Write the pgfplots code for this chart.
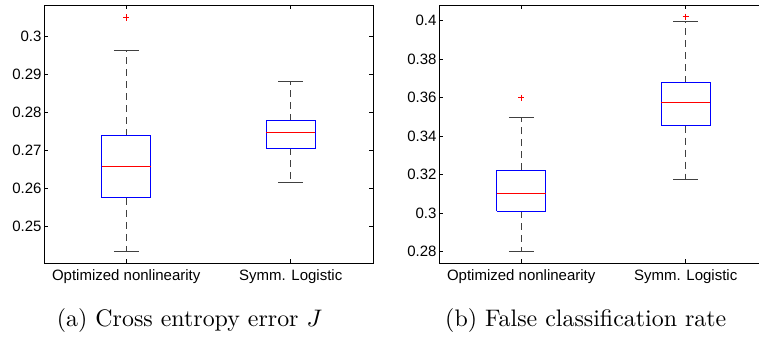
\documentclass[border=0pt]{standalone}
\usepackage{fontspec}
\usepackage{graphicx}
\usepackage{pgfplots}
\pgfplotsset{compat=1.18}
\newfontfamily\arialf{Liberation Sans}
\definecolor{mblue}{RGB}{0,0,255}
\definecolor{mred}{RGB}{255,0,0}
\pgfplotsset{
  mystyle/.style={
    scale only axis, width=329bp, height=258bp,
    anchor=south west,
    xmin=0.5, xmax=2.5,
    xtick={1,2}, xticklabels={Optimized nonlinearity, Symm. Logistic},
    tick align=inside, major tick length=4bp,
    tick style={black, line width=0.6bp},
    axis line style={line width=0.8bp},
    ticklabel style={font=\arialf\fontsize{15bp}{18bp}\selectfont},
    /pgf/number format/assume math mode=true,
    yticklabel style={/pgf/number format/fixed, /pgf/number format/precision=2, inner sep=2.3bp},
    xticklabel style={inner sep=6bp},
  },
  boxs/.style={color=mblue, draw=mblue, fill=none, line width=1bp, no markers, solid},
  meds/.style={color=mred, draw=mred, line width=1bp, no markers, solid},
  whisk/.style={color=black!75, draw=black!75, line width=0.7bp, dash pattern=on 7bp off 5bp, no markers},
  caps/.style={color=black!75, draw=black!75, line width=0.9bp, no markers, solid},
  outl/.style={color=mred, draw=mred, only marks, mark=+, mark size=3.2bp,
    mark options={draw=mred, color=mred, solid, line width=1bp}},
}
\begin{document}
\begin{tikzpicture}
% (a) Cross entropy error
\begin{axis}[mystyle, at={(44bp,77bp)},
  ymin=0.2402, ymax=0.3084,
  ytick={0.25,0.26,0.27,0.28,0.29,0.30}]
% Optimized nonlinearity
\addplot[whisk] coordinates {(1,0.2739) (1,0.2963)};
\addplot[whisk] coordinates {(1,0.2574) (1,0.2432)};
\addplot[caps] coordinates {(0.925,0.2963) (1.075,0.2963)};
\addplot[caps] coordinates {(0.925,0.2432) (1.075,0.2432)};
\addplot[boxs] coordinates {(0.85,0.2574) (1.15,0.2574) (1.15,0.2739) (0.85,0.2739) (0.85,0.2574)};
\addplot[meds] coordinates {(0.85,0.2656) (1.15,0.2656)};
\addplot[outl] coordinates {(1,0.3051)};
% Symm. Logistic
\addplot[whisk] coordinates {(2,0.2778) (2,0.2883)};
\addplot[whisk] coordinates {(2,0.2705) (2,0.2614)};
\addplot[caps] coordinates {(1.925,0.2883) (2.075,0.2883)};
\addplot[caps] coordinates {(1.925,0.2614) (2.075,0.2614)};
\addplot[boxs] coordinates {(1.85,0.2705) (2.15,0.2705) (2.15,0.2778) (1.85,0.2778) (1.85,0.2705)};
\addplot[meds] coordinates {(1.85,0.2747) (2.15,0.2747)};
\end{axis}
% (b) False classification rate
\begin{axis}[mystyle, at={(439bp,77bp)},
  ymin=0.274, ymax=0.408,
  ytick={0.28,0.30,0.32,0.34,0.36,0.38,0.40}]
% Optimized nonlinearity
\addplot[whisk] coordinates {(1,0.3223) (1,0.3498)};
\addplot[whisk] coordinates {(1,0.3008) (1,0.2800)};
\addplot[caps] coordinates {(0.925,0.3498) (1.075,0.3498)};
\addplot[caps] coordinates {(0.925,0.2800) (1.075,0.2800)};
\addplot[boxs] coordinates {(0.85,0.3008) (1.15,0.3008) (1.15,0.3223) (0.85,0.3223) (0.85,0.3008)};
\addplot[meds] coordinates {(0.85,0.3103) (1.15,0.3103)};
\addplot[outl] coordinates {(1,0.3598)};
% Symm. Logistic
\addplot[whisk] coordinates {(2,0.3675) (2,0.3993)};
\addplot[whisk] coordinates {(2,0.3453) (2,0.3172)};
\addplot[caps] coordinates {(1.925,0.3993) (2.075,0.3993)};
\addplot[caps] coordinates {(1.925,0.3172) (2.075,0.3172)};
\addplot[boxs] coordinates {(1.85,0.3453) (2.15,0.3453) (2.15,0.3675) (1.85,0.3675) (1.85,0.3453)};
\addplot[meds] coordinates {(1.85,0.3572) (2.15,0.3572)};
\addplot[outl] coordinates {(2,0.4019)};
\end{axis}
\node[anchor=base west, inner sep=0pt] at (56.7bp,13bp)
  {\scalebox{2.4}{\fontsize{10}{12}\selectfont (a) Cross entropy error $J$}};
\node[anchor=base west, inner sep=0pt] at (445bp,13bp)
  {\scalebox{2.4}{\fontsize{10}{12}\selectfont (b) False classification rate}};
\pgfresetboundingbox
\path[use as bounding box] (0,0) rectangle (759bp,340bp);
\end{tikzpicture}
\end{document}
